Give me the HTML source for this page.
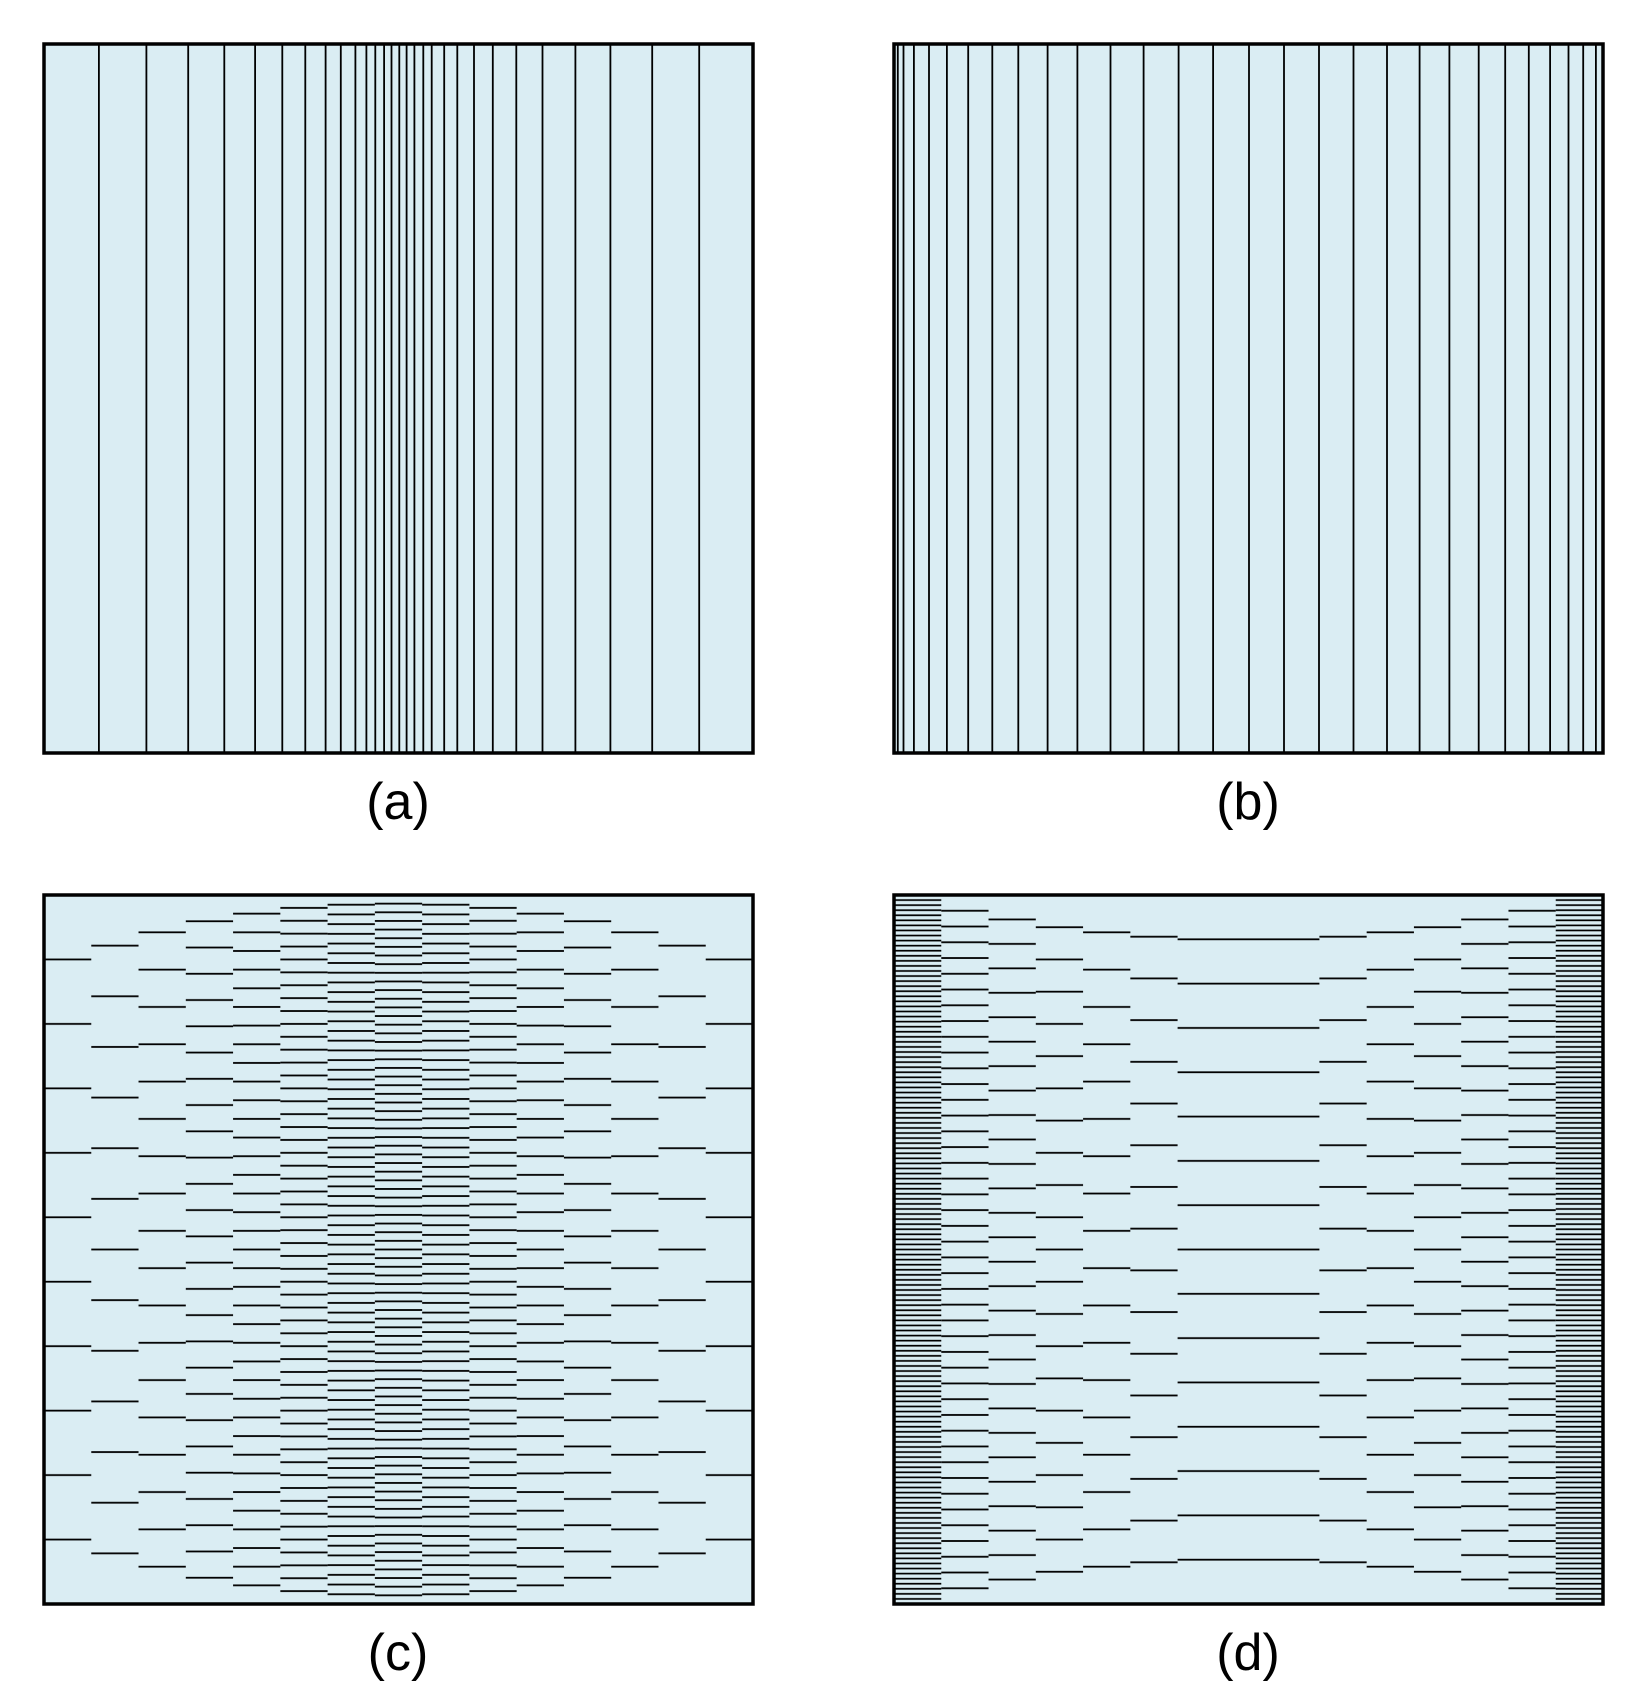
<!DOCTYPE html>
<html><head><meta charset="utf-8"><style>
html,body{margin:0;padding:0;background:#fff;}
svg{display:block;}
text{font-family:"Liberation Sans",sans-serif;font-size:52px;fill:#000;}
</style></head><body>
<svg width="1637" height="1707" viewBox="0 0 1637 1707" xmlns="http://www.w3.org/2000/svg">
<defs>
<pattern id="p82" patternUnits="userSpaceOnUse" x="0" y="890.68" width="2000" height="8.646"><rect x="0" y="3.42" width="2000" height="1.8" fill="#000"/></pattern>
<pattern id="p73" patternUnits="userSpaceOnUse" x="0" y="890.14" width="2000" height="9.712"><rect x="0" y="3.96" width="2000" height="1.8" fill="#000"/></pattern>
<pattern id="p55" patternUnits="userSpaceOnUse" x="0" y="888.55" width="2000" height="12.891"><rect x="0" y="5.55" width="2000" height="1.8" fill="#000"/></pattern>
<pattern id="p38" patternUnits="userSpaceOnUse" x="0" y="885.67" width="2000" height="18.658"><rect x="0" y="8.43" width="2000" height="1.8" fill="#000"/></pattern>
<pattern id="p27" patternUnits="userSpaceOnUse" x="0" y="881.87" width="2000" height="26.259"><rect x="0" y="12.23" width="2000" height="1.8" fill="#000"/></pattern>
<pattern id="p19" patternUnits="userSpaceOnUse" x="0" y="876.34" width="2000" height="37.316"><rect x="0" y="17.76" width="2000" height="1.8" fill="#000"/></pattern>
<pattern id="p14" patternUnits="userSpaceOnUse" x="0" y="869.68" width="2000" height="50.643"><rect x="0" y="24.42" width="2000" height="1.8" fill="#000"/></pattern>
<pattern id="p11" patternUnits="userSpaceOnUse" x="0" y="862.77" width="2000" height="64.455"><rect x="0" y="31.33" width="2000" height="1.8" fill="#000"/></pattern>
<pattern id="p140" patternUnits="userSpaceOnUse" x="0" y="892.47" width="2000" height="5.064"><rect x="0" y="1.7" width="2000" height="1.7" fill="#000"/></pattern>
<pattern id="p45" patternUnits="userSpaceOnUse" x="0" y="887.12" width="2000" height="15.756"><rect x="0" y="6.98" width="2000" height="1.8" fill="#000"/></pattern>
<pattern id="p29" patternUnits="userSpaceOnUse" x="0" y="882.78" width="2000" height="24.448"><rect x="0" y="11.32" width="2000" height="1.8" fill="#000"/></pattern>
<pattern id="p22" patternUnits="userSpaceOnUse" x="0" y="878.89" width="2000" height="32.227"><rect x="0" y="15.21" width="2000" height="1.8" fill="#000"/></pattern>
<pattern id="p17" patternUnits="userSpaceOnUse" x="0" y="874.15" width="2000" height="41.706"><rect x="0" y="19.95" width="2000" height="1.8" fill="#000"/></pattern>
<pattern id="p16" patternUnits="userSpaceOnUse" x="0" y="872.84" width="2000" height="44.313"><rect x="0" y="21.26" width="2000" height="1.8" fill="#000"/></pattern>
</defs>

<!-- Panel a -->
<rect x="44" y="44" width="709" height="709" fill="#daedf3"/>
<g stroke="#000" stroke-width="1.8">
<line x1="98.9" y1="44" x2="98.9" y2="753"/><line x1="146.4" y1="44" x2="146.4" y2="753"/>
<line x1="188.2" y1="44" x2="188.2" y2="753"/><line x1="224.3" y1="44" x2="224.3" y2="753"/>
<line x1="255.1" y1="44" x2="255.1" y2="753"/><line x1="282.3" y1="44" x2="282.3" y2="753"/>
<line x1="305.3" y1="44" x2="305.3" y2="753"/><line x1="325.6" y1="44" x2="325.6" y2="753"/>
<line x1="340.8" y1="44" x2="340.8" y2="753"/><line x1="355.4" y1="44" x2="355.4" y2="753"/>
<line x1="366.4" y1="44" x2="366.4" y2="753"/><line x1="375.3" y1="44" x2="375.3" y2="753"/>
<line x1="384.1" y1="44" x2="384.1" y2="753"/><line x1="391.5" y1="44" x2="391.5" y2="753"/>
<line x1="399.3" y1="44" x2="399.3" y2="753"/><line x1="406.6" y1="44" x2="406.6" y2="753"/>
<line x1="414.4" y1="44" x2="414.4" y2="753"/><line x1="423.3" y1="44" x2="423.3" y2="753"/>
<line x1="431.7" y1="44" x2="431.7" y2="753"/><line x1="444.2" y1="44" x2="444.2" y2="753"/>
<line x1="457.3" y1="44" x2="457.3" y2="753"/><line x1="474.0" y1="44" x2="474.0" y2="753"/>
<line x1="492.8" y1="44" x2="492.8" y2="753"/><line x1="516.3" y1="44" x2="516.3" y2="753"/>
<line x1="542.5" y1="44" x2="542.5" y2="753"/><line x1="575.4" y1="44" x2="575.4" y2="753"/>
<line x1="610.4" y1="44" x2="610.4" y2="753"/><line x1="652.2" y1="44" x2="652.2" y2="753"/>
<line x1="699.2" y1="44" x2="699.2" y2="753"/>
</g>
<rect x="44" y="44" width="709" height="709" fill="none" stroke="#000" stroke-width="3.5"/>
<text x="398" y="819" text-anchor="middle">(a)</text>

<!-- Panel b -->
<rect x="894" y="44" width="709" height="709" fill="#daedf3"/>
<g stroke="#000" stroke-width="1.8">
<line x1="897.8" y1="44" x2="897.8" y2="753"/><line x1="903.5" y1="44" x2="903.5" y2="753"/>
<line x1="913.9" y1="44" x2="913.9" y2="753"/><line x1="929" y1="44" x2="929" y2="753"/>
<line x1="946.9" y1="44" x2="946.9" y2="753"/><line x1="968.2" y1="44" x2="968.2" y2="753"/>
<line x1="992.3" y1="44" x2="992.3" y2="753"/><line x1="1018.3" y1="44" x2="1018.3" y2="753"/>
<line x1="1047.6" y1="44" x2="1047.6" y2="753"/><line x1="1077.4" y1="44" x2="1077.4" y2="753"/>
<line x1="1110.5" y1="44" x2="1110.5" y2="753"/><line x1="1143.6" y1="44" x2="1143.6" y2="753"/>
<line x1="1178.6" y1="44" x2="1178.6" y2="753"/><line x1="1213.1" y1="44" x2="1213.1" y2="753"/>
<line x1="1249" y1="44" x2="1249" y2="753"/><line x1="1284" y1="44" x2="1284" y2="753"/>
<line x1="1319" y1="44" x2="1319" y2="753"/><line x1="1353.5" y1="44" x2="1353.5" y2="753"/>
<line x1="1387" y1="44" x2="1387" y2="753"/><line x1="1419.6" y1="44" x2="1419.6" y2="753"/>
<line x1="1449.4" y1="44" x2="1449.4" y2="753"/><line x1="1478.7" y1="44" x2="1478.7" y2="753"/>
<line x1="1505.2" y1="44" x2="1505.2" y2="753"/><line x1="1528.8" y1="44" x2="1528.8" y2="753"/>
<line x1="1550.1" y1="44" x2="1550.1" y2="753"/><line x1="1568.5" y1="44" x2="1568.5" y2="753"/>
<line x1="1583.2" y1="44" x2="1583.2" y2="753"/><line x1="1595.9" y1="44" x2="1595.9" y2="753"/>
</g>
<rect x="894" y="44" width="709" height="709" fill="none" stroke="#000" stroke-width="3.5"/>
<text x="1248" y="819" text-anchor="middle">(b)</text>

<!-- Panel c -->
<rect x="44" y="895" width="709" height="709" fill="#daedf3"/>
<rect x="44" y="895" width="47.27" height="709" fill="url(#p11)"/>
<rect x="91.27" y="895" width="47.27" height="709" fill="url(#p14)"/>
<rect x="138.53" y="895" width="47.27" height="709" fill="url(#p19)"/>
<rect x="185.8" y="895" width="47.27" height="709" fill="url(#p27)"/>
<rect x="233.07" y="895" width="47.27" height="709" fill="url(#p38)"/>
<rect x="280.33" y="895" width="47.27" height="709" fill="url(#p55)"/>
<rect x="327.6" y="895" width="47.27" height="709" fill="url(#p73)"/>
<rect x="374.87" y="895" width="47.27" height="709" fill="url(#p82)"/>
<rect x="422.13" y="895" width="47.27" height="709" fill="url(#p73)"/>
<rect x="469.4" y="895" width="47.27" height="709" fill="url(#p55)"/>
<rect x="516.67" y="895" width="47.27" height="709" fill="url(#p38)"/>
<rect x="563.93" y="895" width="47.27" height="709" fill="url(#p27)"/>
<rect x="611.2" y="895" width="47.27" height="709" fill="url(#p19)"/>
<rect x="658.47" y="895" width="47.27" height="709" fill="url(#p14)"/>
<rect x="705.73" y="895" width="47.27" height="709" fill="url(#p11)"/>
<rect x="44" y="895" width="709" height="709" fill="none" stroke="#000" stroke-width="3.5"/>
<text x="398" y="1670" text-anchor="middle">(c)</text>

<!-- Panel d -->
<rect x="894" y="895" width="709" height="709" fill="#daedf3"/>
<rect x="894" y="895" width="47.27" height="709" fill="url(#p140)"/>
<rect x="941.27" y="895" width="47.27" height="709" fill="url(#p45)"/>
<rect x="988.53" y="895" width="47.27" height="709" fill="url(#p29)"/>
<rect x="1035.8" y="895" width="47.27" height="709" fill="url(#p22)"/>
<rect x="1083.07" y="895" width="47.27" height="709" fill="url(#p19)"/>
<rect x="1130.33" y="895" width="47.27" height="709" fill="url(#p17)"/>
<rect x="1177.6" y="895" width="141.8" height="709" fill="url(#p16)"/>
<rect x="1319.4" y="895" width="47.27" height="709" fill="url(#p17)"/>
<rect x="1366.67" y="895" width="47.27" height="709" fill="url(#p19)"/>
<rect x="1413.93" y="895" width="47.27" height="709" fill="url(#p22)"/>
<rect x="1461.2" y="895" width="47.27" height="709" fill="url(#p29)"/>
<rect x="1508.47" y="895" width="47.27" height="709" fill="url(#p45)"/>
<rect x="1555.73" y="895" width="47.27" height="709" fill="url(#p140)"/>
<rect x="894" y="895" width="709" height="709" fill="none" stroke="#000" stroke-width="3.5"/>
<text x="1248" y="1670" text-anchor="middle">(d)</text>
</svg>
</body></html>
